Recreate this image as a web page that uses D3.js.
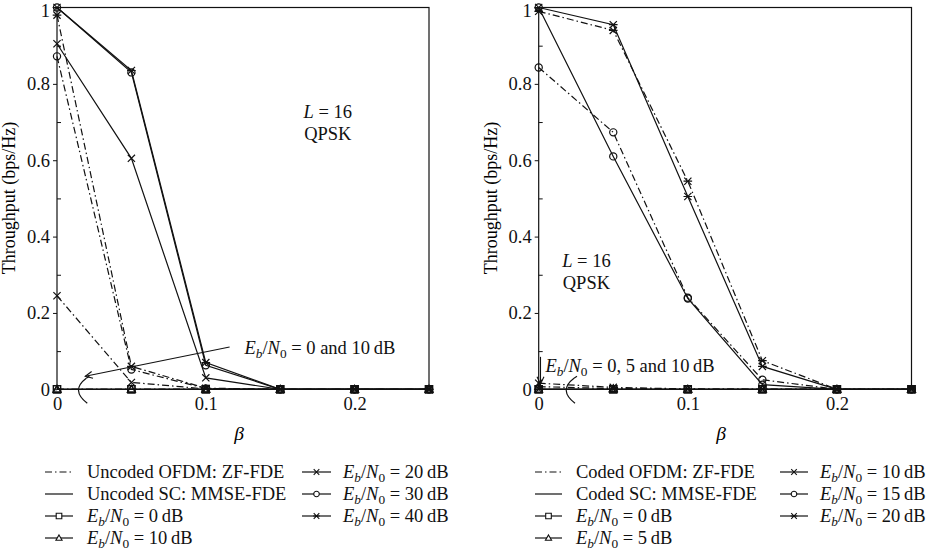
<!DOCTYPE html>
<html>
<head>
<meta charset="utf-8">
<script src="https://cdn.jsdelivr.net/npm/d3@7"></script>
<style>
  body { margin: 0; background: #fff; }
  svg { display: block; font-family: "Liberation Serif", "DejaVu Serif", serif; }
</style>
</head>
<body>
<div id="chart"></div>
<script>
// shared axes
const betaValues = [0, 0.05, 0.1, 0.15, 0.2, 0.25];
const yTickValues = [0, 0.2, 0.4, 0.6, 0.8, 1];
const xTickValues = [0, 0.1, 0.2];

// left panel: uncoded, Eb/N0 = 0, 10, 20, 30, 40 dB
const leftSnr = [0, 10, 20, 30, 40];
const uncodedOfdm = [
	[0, 0, 0, 0, 0, 0],
	[0, 0, 0, 0, 0, 0],
	[0.245, 0.018, 0.001, 0, 0, 0],
	[0.872, 0.052, 0.002, 0, 0, 0],
	[0.98, 0.06, 0.003, 0, 0, 0]
];
const uncodedSc = [
	[0, 0, 0, 0, 0, 0],
	[0, 0, 0, 0, 0, 0],
	[0.905, 0.605, 0.03, 0, 0, 0],
	[1.0, 0.83, 0.063, 0, 0, 0],
	[1.0, 0.835, 0.07, 0, 0, 0]
];

// right panel: coded, Eb/N0 = 0, 5, 10, 15, 20 dB
const rightSnr = [0, 5, 10, 15, 20];
const codedOfdm = [
	[0, 0, 0, 0, 0, 0],
	[0.007, 0.002, 0, 0, 0, 0],
	[0.016, 0.005, 0.001, 0, 0, 0],
	[0.843, 0.673, 0.24, 0.025, 0, 0],
	[0.99, 0.94, 0.545, 0.075, 0, 0]
];
const codedSc = [
	[0, 0, 0, 0, 0, 0],
	[0, 0, 0, 0, 0, 0],
	[0, 0, 0, 0, 0, 0],
	[1.0, 0.61, 0.238, 0.012, 0, 0],
	[1.0, 0.955, 0.505, 0.06, 0, 0]
];

const width = 929;
const height = 552;
const ink = "#111";
const dashDot = "7,3,1.5,3";
const markerKinds = ["square", "triangle", "x", "circle", "asterisk"];

const svg = d3.select("#chart").append("svg")
	.attr("width", width)
	.attr("height", height);

function markerPath(kind, s) {
	if (kind === "square") return `M${-s},${-s}h${2 * s}v${2 * s}h${-2 * s}Z`;
	if (kind === "triangle") return `M0,${-s * 1.1}L${s * 1.1},${s * 0.8}L${-s * 1.1},${s * 0.8}Z`;
	if (kind === "x") return `M${-s},${-s}L${s},${s}M${-s},${s}L${s},${-s}`;
	if (kind === "circle") return `M${s},0A${s},${s} 0 1,1 ${-s},0A${s},${s} 0 1,1 ${s},0Z`;
	// asterisk
	return `M${-s},${-s}L${s},${s}M${-s},${s}L${s},${-s}M${-s * 1.2},0L${s * 1.2},0`;
}

function ebn0(text, suffix) {
	text.append("tspan").attr("font-style", "italic").text("E");
	text.append("tspan").attr("font-style", "italic").attr("font-size", "0.72em").attr("dy", 4).text("b");
	text.append("tspan").attr("dy", -4).text("/");
	text.append("tspan").attr("font-style", "italic").text("N");
	text.append("tspan").attr("font-size", "0.72em").attr("dy", 4).text("0");
	text.append("tspan").attr("dy", -4).text(" = " + suffix);
}

function drawPanel(opt) {
	const x = d3.scaleLinear().domain([0, 0.25]).range([opt.x0, opt.x1]);
	const y = d3.scaleLinear().domain([0, 1]).range([389.3, 7.5]);
	const g = svg.append("g");

	// frame
	g.append("rect")
		.attr("x", x(0)).attr("y", y(1))
		.attr("width", x(0.25) - x(0)).attr("height", y(0) - y(1))
		.attr("fill", "none").attr("stroke", ink).attr("stroke-width", 1.2);

	// y axis
	const yAxis = g.append("g")
		.attr("transform", `translate(${x(0)},0)`)
		.call(d3.axisLeft(y).tickValues(yTickValues).tickSizeInner(4).tickSizeOuter(0)
			.tickPadding(3).tickFormat((d) => (d === 0 || d === 1 ? d : d.toFixed(1))));
	yAxis.select(".domain").remove();
	yAxis.selectAll("text").attr("font-size", 18.5).attr("font-family", "Liberation Serif").attr("fill", ink)
		.attr("dy", (d) => (d === 1 ? "0.5em" : "0.32em"));
	yAxis.selectAll("line").attr("stroke", ink);
	g.append("g")
		.attr("transform", `translate(${x(0)},0)`)
		.call(d3.axisLeft(y).tickValues([0.1, 0.3, 0.5, 0.7, 0.9]).tickSize(-4).tickFormat(""))
		.call((a) => a.select(".domain").remove())
		.selectAll("line").attr("stroke", ink);

	// x axis
	const xAxis = g.append("g")
		.attr("transform", `translate(0,${y(0)})`)
		.call(d3.axisBottom(x).tickValues(xTickValues).tickSizeInner(-4).tickSizeOuter(0)
			.tickPadding(8).tickFormat((d) => (d === 0 ? "0" : d.toFixed(1))));
	xAxis.select(".domain").remove();
	xAxis.selectAll("text").attr("font-size", 18.5).attr("font-family", "Liberation Serif").attr("fill", ink);
	xAxis.selectAll("line").attr("stroke", ink);

	// axis titles
	g.append("text")
		.attr("x", (x(0) + x(0.25)) / 2 - 4).attr("y", 440)
		.attr("text-anchor", "middle").attr("font-size", 19.5).attr("font-style", "italic")
		.text("\u03b2");
	g.append("text")
		.attr("transform", `translate(${opt.x0 - 42},${198}) rotate(-90)`)
		.attr("text-anchor", "middle").attr("font-size", 18)
		.text("Throughput (bps/Hz)");

	// series
	const line = d3.line().x((d, i) => x(betaValues[i])).y((d) => y(d));
	const groups = [
		{ data: opt.ofdm, dash: dashDot },
		{ data: opt.sc, dash: null }
	];
	groups.forEach((grp) => {
		grp.data.forEach((vals) => {
			g.append("path")
				.attr("d", line(vals))
				.attr("fill", "none").attr("stroke", ink).attr("stroke-width", 1.2)
				.attr("stroke-dasharray", grp.dash);
		});
	});
	groups.forEach((grp) => {
		grp.data.forEach((vals, k) => {
			g.selectAll(null).data(vals).enter().append("path")
				.attr("transform", (d, i) => `translate(${x(betaValues[i])},${y(d)})`)
				.attr("d", markerPath(markerKinds[k], 3.6))
				.attr("fill", "none").attr("stroke", ink).attr("stroke-width", 1.2);
		});
	});

	// annotation text
	const ann = g.append("g").attr("font-size", 18.5).attr("fill", ink);
	const lText = ann.append("text").attr("x", x(opt.lx)).attr("y", y(opt.ly1)).attr("text-anchor", "middle");
	lText.append("tspan").attr("font-style", "italic").text("L");
	lText.append("tspan").text(" = 16");
	ann.append("text").attr("x", x(opt.lx)).attr("y", y(opt.ly2)).attr("text-anchor", "middle").text("QPSK");

	ebn0(ann.append("text").attr("x", x(opt.ex)).attr("y", y(opt.ey)), opt.eText);

	// pointer arrow
	g.append("path")
		.attr("d", `M${x(opt.a0[0])},${y(opt.a0[1])}L${x(opt.a1[0])},${y(opt.a1[1])}`)
		.attr("stroke", ink).attr("stroke-width", 1.1).attr("fill", "none");
	const ang = Math.atan2(y(opt.a0[1]) - y(opt.a1[1]), x(opt.a0[0]) - x(opt.a1[0]));
	const tipX = x(opt.a1[0]);
	const tipY = y(opt.a1[1]);
	const hl = 8;
	g.append("path")
		.attr("d", `M${tipX + hl * Math.cos(ang - 0.45)},${tipY + hl * Math.sin(ang - 0.45)}L${tipX},${tipY}L${tipX + hl * Math.cos(ang + 0.45)},${tipY + hl * Math.sin(ang + 0.45)}`)
		.attr("stroke", ink).attr("stroke-width", 1.1).attr("fill", "none");

	// bracket around the bottom curves
	const cx = x(opt.bx);
	const cy = y(0);
	g.append("path")
		.attr("d", `M${cx + 1},${cy - 11}Q${cx - 15},${cy + 1} ${cx + 2},${cy + 14}`)
		.attr("stroke", ink).attr("stroke-width", 1.2).attr("fill", "none");
	g.append("path")
		.attr("d", `M${cx + 1},${cy - 11}l3,-2`)
		.attr("stroke", ink).attr("stroke-width", 1.2).attr("fill", "none");

	// legend
	const leg = g.append("g").attr("font-size", 18.5).attr("fill", ink);
	const rows = [472, 494, 516, 538];
	const entries = [
		{ col: 0, row: 0, dash: dashDot, label: opt.ofdmLabel },
		{ col: 0, row: 1, dash: null, label: opt.scLabel }
	];
	opt.snr.forEach((s, k) => {
		const slot = k + 2;
		entries.push({ col: slot < 4 ? 0 : 1, row: slot < 4 ? slot : slot - 4, dash: null, marker: markerKinds[k], snr: s });
	});
	entries.forEach((e) => {
		const lx0 = opt.legX[e.col][0];
		const lx1 = opt.legX[e.col][1];
		const ry = rows[e.row];
		leg.append("line")
			.attr("x1", lx0).attr("x2", lx1).attr("y1", ry).attr("y2", ry)
			.attr("stroke", ink).attr("stroke-width", 1.2).attr("stroke-dasharray", e.dash);
		if (e.marker) {
			leg.append("path")
				.attr("transform", `translate(${(lx0 + lx1) / 2},${ry})`)
				.attr("d", markerPath(e.marker, 2.8))
				.attr("fill", "#fff").attr("stroke", ink).attr("stroke-width", 1.1);
		}
		const t = leg.append("text").attr("x", opt.legX[e.col][2]).attr("y", ry + 6);
		if (e.label) t.text(e.label);
		else ebn0(t, e.snr + "\u2009dB");
	});
}

drawPanel({
	x0: 57, x1: 429,
	ofdm: uncodedOfdm, sc: uncodedSc, snr: leftSnr,
	lx: 0.182, ly1: 0.71, ly2: 0.652,
	ex: 0.126, ey: 0.093, eText: "0 and 10\u2009dB",
	a0: [0.116, 0.111], a1: [0.019, 0.034],
	bx: 0.019,
	ofdmLabel: "Uncoded OFDM: ZF-FDE", scLabel: "Uncoded SC: MMSE-FDE",
	legX: [[45, 73, 87], [302, 331, 343]]
});

drawPanel({
	x0: 538.7, x1: 911.5,
	ofdm: codedOfdm, sc: codedSc, snr: rightSnr,
	lx: 0.032, ly1: 0.32, ly2: 0.262,
	ex: 0.0045, ey: 0.046, eText: "0, 5 and 10\u2009dB",
	a0: [0.0012, 0.085], a1: [0.0012, 0.014],
	bx: 0.023,
	ofdmLabel: "Coded OFDM: ZF-FDE", scLabel: "Coded SC: MMSE-FDE",
	legX: [[535, 562, 576], [780, 808, 820]]
});
</script>
</body>
</html>
